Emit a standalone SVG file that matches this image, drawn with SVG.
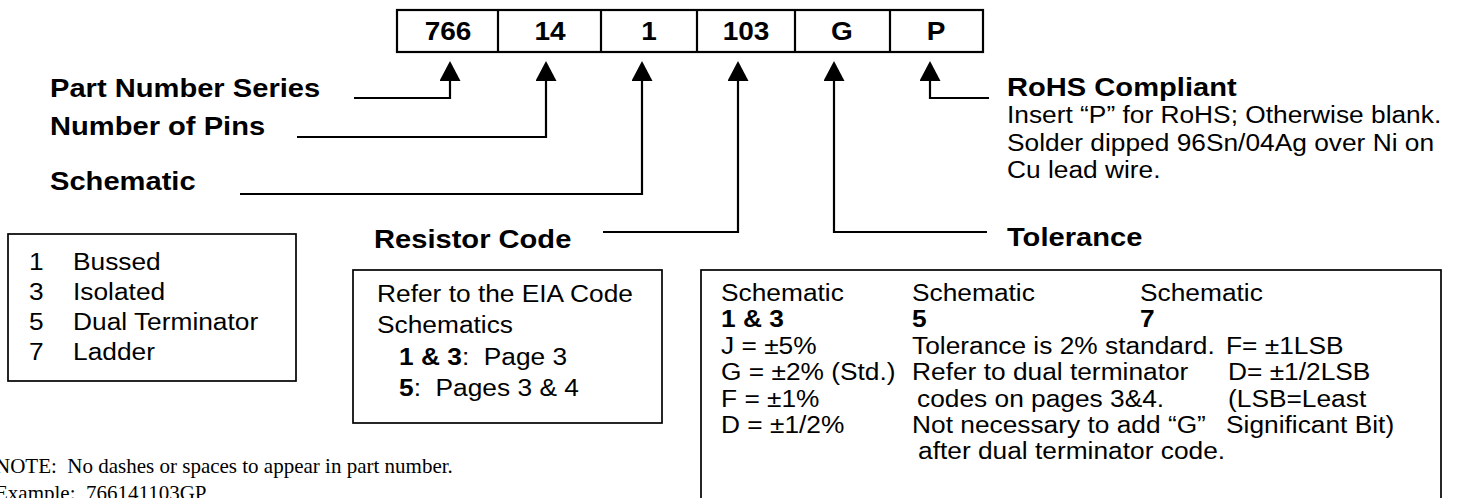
<svg xmlns="http://www.w3.org/2000/svg" width="1462" height="498" viewBox="0 0 1462 498" xml:space="preserve">
<style>
text{white-space:pre}
.t{font-family:"Liberation Sans",Arial,sans-serif;fill:#000}
.b{font-weight:bold;font-size:26px}
.d{font-weight:bold;font-size:25px;text-anchor:middle}
.r{font-size:23.5px}
.rb{font-size:23.5px;font-weight:bold}
.box{fill:#fff;stroke:#000;stroke-width:1.7}
.conn{fill:none;stroke:#000;stroke-width:2.2}
.note{font-family:"Liberation Serif","Times New Roman",serif;font-size:21px;fill:#000}
</style>
<defs>
<marker id="ah" viewBox="0 0 20 21" refX="11" refY="10.5" markerWidth="20" markerHeight="21" markerUnits="userSpaceOnUse" orient="auto">
<path d="M0,0 L20,10.5 L0,21 Z" fill="#000"/>
</marker>
</defs>
<rect width="1462" height="498" fill="#fff"/>

<g id="partnumber">
<rect x="397" y="10" width="586" height="42" fill="#fff" stroke="#000" stroke-width="2.2"/>
<path d="M498,10V52M601,10V52M697,10V52M795,10V52M890,10V52" stroke="#000" stroke-width="2.2"/>
<text class="t d" transform="translate(448,40) scale(1.12,1)">766</text>
<text class="t d" transform="translate(550,40) scale(1.12,1)">14</text>
<text class="t d" transform="translate(649,40) scale(1.12,1)">1</text>
<text class="t d" transform="translate(746,40) scale(1.12,1)">103</text>
<text class="t d" transform="translate(842,40) scale(1.12,1)">G</text>
<text class="t d" transform="translate(936,40) scale(1.12,1)">P</text>
</g>

<g id="connectors">
<path class="conn" d="M354,98H450V70" marker-end="url(#ah)"/>
<path class="conn" d="M297,137H546V70" marker-end="url(#ah)"/>
<path class="conn" d="M240,194H642V70" marker-end="url(#ah)"/>
<path class="conn" d="M603,232H738V70" marker-end="url(#ah)"/>
<path class="conn" d="M987,232H834V70" marker-end="url(#ah)"/>
<path class="conn" d="M989,98H930V70" marker-end="url(#ah)"/>
</g>

<g id="label-series"><text class="t b" transform="translate(50,97) scale(1.12,1)">Part Number Series</text></g>
<g id="label-pins"><text class="t b" transform="translate(50,135) scale(1.12,1)">Number of Pins</text></g>
<g id="label-schematic"><text class="t b" transform="translate(50,190) scale(1.12,1)">Schematic</text></g>
<g id="label-resistor"><text class="t b" transform="translate(374,248) scale(1.12,1)">Resistor Code</text></g>
<g id="label-rohs">
<text class="t b" transform="translate(1007,96) scale(1.12,1)">RoHS Compliant</text>
<text class="t r" transform="translate(1007,123) scale(1.12,1)">Insert “P” for RoHS; Otherwise blank.</text>
<text class="t r" transform="translate(1007,151) scale(1.12,1)">Solder dipped 96Sn/04Ag over Ni on</text>
<text class="t r" transform="translate(1007,178) scale(1.12,1)">Cu lead wire.</text>
</g>
<g id="label-tolerance"><text class="t b" transform="translate(1007,246) scale(1.12,1)">Tolerance</text></g>

<g id="schematic-box">
<rect class="box" x="8" y="234" width="288" height="147"/>
<text class="t r" transform="translate(29,270) scale(1.12,1)">1</text><text class="t r" transform="translate(73,270) scale(1.12,1)">Bussed</text>
<text class="t r" transform="translate(29,300) scale(1.12,1)">3</text><text class="t r" transform="translate(73,300) scale(1.12,1)">Isolated</text>
<text class="t r" transform="translate(29,330) scale(1.12,1)">5</text><text class="t r" transform="translate(73,330) scale(1.12,1)">Dual Terminator</text>
<text class="t r" transform="translate(29,360) scale(1.12,1)">7</text><text class="t r" transform="translate(73,360) scale(1.12,1)">Ladder</text>
</g>

<g id="resistor-box">
<rect class="box" x="353" y="270" width="309" height="153"/>
<text class="t r" transform="translate(377,302) scale(1.12,1)">Refer to the EIA Code</text>
<text class="t r" transform="translate(377,333) scale(1.12,1)">Schematics</text>
<text class="t r" transform="translate(399,365) scale(1.12,1)"><tspan font-weight="bold">1 &amp; 3</tspan>:  Page 3</text>
<text class="t r" transform="translate(399,396) scale(1.12,1)"><tspan font-weight="bold">5</tspan>:  Pages 3 &amp; 4</text>
</g>

<g id="tolerance-box">
<rect class="box" x="701" y="270" width="740" height="260"/>
<text class="t r" transform="translate(721,301) scale(1.12,1)">Schematic</text>
<text class="t rb" transform="translate(721,327) scale(1.12,1)">1 &amp; 3</text>
<text class="t r" transform="translate(721,354) scale(1.12,1)">J = ±5%</text>
<text class="t r" transform="translate(721,380) scale(1.12,1)">G = ±2% (Std.)</text>
<text class="t r" transform="translate(721,407) scale(1.12,1)">F = ±1%</text>
<text class="t r" transform="translate(721,433) scale(1.12,1)">D = ±1/2%</text>
<text class="t r" transform="translate(912,301) scale(1.12,1)">Schematic</text>
<text class="t rb" transform="translate(912,327) scale(1.12,1)">5</text>
<text class="t r" transform="translate(912,354) scale(1.12,1)">Tolerance is 2% standard.</text>
<text class="t r" transform="translate(912,380) scale(1.12,1)">Refer to dual terminator</text>
<text class="t r" transform="translate(917,407) scale(1.12,1)">codes on pages 3&amp;4.</text>
<text class="t r" transform="translate(912,433) scale(1.12,1)">Not necessary to add “G”</text>
<text class="t r" transform="translate(918,459) scale(1.12,1)">after dual terminator code.</text>
<text class="t r" transform="translate(1140,301) scale(1.12,1)">Schematic</text>
<text class="t rb" transform="translate(1140,327) scale(1.12,1)">7</text>
<text class="t r" transform="translate(1226,354) scale(1.12,1)">F= ±1LSB</text>
<text class="t r" transform="translate(1228,380) scale(1.12,1)">D= ±1/2LSB</text>
<text class="t r" transform="translate(1228,407) scale(1.12,1)">(LSB=Least</text>
<text class="t r" transform="translate(1226,433) scale(1.12,1)">Significant Bit)</text>
</g>

<g id="note">
<text class="note" x="-5" y="473">NOTE:  No dashes or spaces to appear in part number.</text>
<text class="note" x="-5" y="500">Example:  766141103GP</text>
</g>
</svg>
